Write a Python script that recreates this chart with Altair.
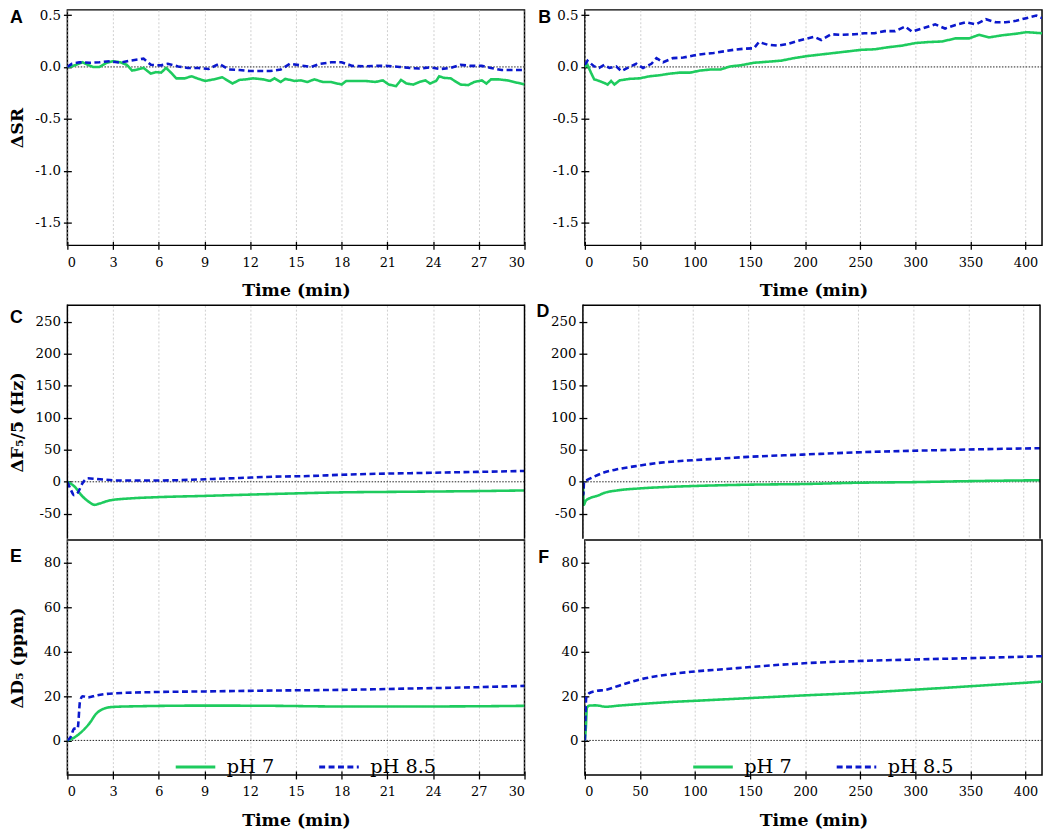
import altair as alt
import pandas as pd

# ---------------- data ----------------
SERIES = ["pH 7", "pH 8.5"]

# Panel A: ΔSR, 0-30 min
A_PH7 = [(0, 0.0), (0.3, 0.005), (1.0, 0.045), (1.34, 0.02), (1.68, 0.0), (2.1, 0.0), (2.57, 0.04),
         (3.0, 0.055), (3.47, 0.045), (3.9, 0.02), (4.25, -0.035), (4.6, -0.025), (5.0, -0.01),
         (5.48, -0.065), (5.8, -0.05), (6.15, -0.055), (6.48, -0.01), (6.8, -0.055), (7.15, -0.11),
         (7.7, -0.11), (8.16, -0.09), (8.6, -0.115), (9.05, -0.135), (9.6, -0.12), (10.17, -0.1),
         (10.84, -0.16), (11.3, -0.125), (11.7, -0.12), (12.2, -0.11), (12.85, -0.12), (13.3, -0.135),
         (13.6, -0.11), (14.0, -0.145), (14.3, -0.115), (14.9, -0.135), (15.3, -0.13), (15.76, -0.145),
         (16.2, -0.12), (16.77, -0.145), (17.3, -0.145), (18.0, -0.17), (18.3, -0.135), (18.9, -0.135),
         (19.55, -0.135), (20.2, -0.145), (20.7, -0.13), (21.1, -0.17), (21.57, -0.185), (21.9, -0.125),
         (22.25, -0.16), (22.7, -0.17), (23.1, -0.145), (23.5, -0.13), (23.8, -0.16), (24.2, -0.135),
         (24.4, -0.09), (24.7, -0.105), (25.15, -0.11), (25.8, -0.17), (26.3, -0.175), (26.7, -0.145),
         (27.2, -0.13), (27.5, -0.16), (27.8, -0.12), (28.3, -0.12), (28.9, -0.13), (29.6, -0.155),
         (30, -0.17)]
A_PH85 = [(0, 0.0), (0.3, 0.03), (0.78, 0.045), (1.45, 0.04), (2.1, 0.045), (2.8, 0.055), (3.47, 0.04),
          (4.1, 0.06), (5.0, 0.08), (5.48, 0.02), (6.15, 0.015), (6.6, 0.03), (7.27, 0.005), (7.9, -0.01),
          (8.6, -0.01), (9.27, -0.02), (9.95, 0.03), (10.6, -0.025), (11.3, -0.03), (11.97, -0.04),
          (12.6, -0.04), (13.3, -0.04), (14.0, -0.025), (14.6, 0.03), (15.3, 0.015), (15.98, 0.0),
          (16.6, 0.03), (17.3, 0.045), (18.0, 0.045), (18.7, 0.01), (19.55, 0.005), (20.2, 0.01),
          (20.9, 0.01), (21.8, 0.0), (22.5, -0.01), (23.1, -0.015), (23.8, -0.005), (24.5, -0.02),
          (25.15, -0.01), (25.8, 0.02), (26.5, 0.01), (27.2, 0.01), (27.8, -0.01), (28.5, -0.03),
          (29.2, -0.03), (30, -0.03)]

# Panel B: ΔSR, 0-415 min
B_PH7 = [(0, 0.0), (2.4, 0.02), (5.5, -0.055), (8.5, -0.12), (13, -0.135), (17.7, -0.155), (20.7, -0.17),
         (23.8, -0.135), (26.8, -0.17), (31.4, -0.13), (40.6, -0.115), (49.7, -0.11), (58.9, -0.09),
         (68, -0.08), (77, -0.065), (86, -0.055), (95.5, -0.055), (104.7, -0.035), (113.8, -0.025),
         (123, -0.025), (132, 0.005), (141, 0.015), (153.5, 0.04), (165.7, 0.05), (177.9, 0.06),
         (190, 0.085), (202, 0.105), (214.5, 0.12), (226.7, 0.135), (238.9, 0.15), (251, 0.165),
         (263, 0.17), (275.5, 0.19), (287.7, 0.205), (300, 0.23), (312, 0.24), (324, 0.245),
         (336.5, 0.275), (348.7, 0.275), (357.9, 0.31), (367, 0.285), (379, 0.305), (391.5, 0.32),
         (400.6, 0.335), (415, 0.325)]
B_PH85 = [(0, 0.02), (2.4, 0.06), (4.6, 0.04), (8.5, 0.005), (13, -0.01), (17.7, 0.02), (22.3, -0.01),
          (28.4, 0.005), (33, -0.04), (40.6, 0.0), (46.7, 0.03), (52.8, -0.01), (60.4, 0.03), (65, 0.085),
          (71, 0.045), (80, 0.085), (89.4, 0.09), (98.5, 0.11), (107.7, 0.125), (116.9, 0.135),
          (126, 0.15), (135, 0.165), (144, 0.175), (153.5, 0.18), (158, 0.24), (165.7, 0.215),
          (175, 0.205), (184, 0.22), (193, 0.25), (202, 0.275), (208, 0.29), (214.5, 0.26),
          (223.6, 0.315), (232.8, 0.31), (245, 0.315), (254, 0.325), (263, 0.325), (272, 0.345),
          (281.6, 0.345), (290.8, 0.39), (296.9, 0.34), (306, 0.37), (318, 0.41), (327, 0.37),
          (336.5, 0.405), (345.7, 0.43), (354.8, 0.41), (364, 0.46), (373, 0.43), (382, 0.43),
          (391.5, 0.445), (400.6, 0.47), (409.8, 0.495), (415, 0.47)]

# Panel C: ΔF5/5 (Hz), 0-30 min
C_PH7 = [(0, 0), (0.45, -7), (1.0, -23), (1.45, -32), (1.79, -36), (2.1, -34), (2.8, -29), (4.1, -26),
         (5.9, -24), (9.05, -22), (13.5, -19), (18, -16.5), (22.5, -15.5), (26.9, -14.5), (30, -13.5)]
C_PH85 = [(0, 0), (0.22, -12), (0.45, -21), (0.67, -17.5), (1.0, -2), (1.34, 5.5), (1.9, 4.5), (3.47, 2),
          (5.7, 2), (7.9, 3), (9.05, 4), (11.3, 6), (13.5, 8), (15.8, 9), (18, 11), (20.2, 12.5),
          (22.5, 13.5), (24.7, 14.5), (26.9, 15.5), (30, 17)]

# Panel D: ΔF5/5 (Hz), 0-415 min
D_PH7 = [(0, 0), (0.9, -36), (2.4, -30), (7, -25), (13, -22), (19, -17.5), (31, -13.5), (50, -10.5),
         (77, -8), (101.6, -6.5), (150, -4.5), (199, -3.5), (248, -1.5), (300, -0.5), (349, 1), (415, 2.5)]
D_PH85 = [(0, 0), (0.5, -20), (1.0, 0), (4, 3), (10, 8), (19, 14.5), (31, 19.5), (50, 25), (71, 30),
          (101.6, 34), (126, 36.5), (150, 39), (199, 42.5), (248, 46), (300, 48.5), (349, 50.5), (415, 52.5)]

# Panel E: ΔD5 (ppm), 0-30 min
E_PH7 = [(0, 0), (0.45, 1.3), (1.0, 4.3), (1.45, 7.7), (1.9, 12.1), (2.35, 14.2), (3.0, 15.1), (4.6, 15.4),
         (9.05, 15.7), (13.5, 15.6), (18, 15.3), (22.5, 15.3), (26.9, 15.4), (30, 15.6)]
E_PH85 = [(0, 0), (0.22, 1.6), (0.45, 5.3), (0.67, 5.3), (0.83, 17.6), (1.0, 19.9), (1.34, 19.4),
          (1.9, 20.3), (3.0, 21.2), (5.7, 21.8), (9.05, 22.1), (13.5, 22.5), (18, 22.8), (22.5, 23.4),
          (26.9, 24), (30, 24.6)]

# Panel F: ΔD5 (ppm), 0-415 min
F_PH7 = [(0, 0), (0.9, 5.8), (1.8, 14.6), (4, 15.7), (10, 15.8), (19, 15.2), (31, 15.7), (50, 16.4),
         (77, 17.3), (101.6, 17.9), (150, 19.1), (199, 20.3), (248, 21.4), (300, 22.9), (349, 24.4), (415, 26.5)]
F_PH85 = [(0, 0), (0.6, 11.7), (1.2, 19.1), (4, 21.3), (10, 22.3), (19, 22.8), (31, 24.7), (50, 27.5),
          (71, 29.4), (101.6, 31.2), (126, 32.1), (150, 33.1), (199, 34.8), (248, 35.8), (300, 36.5),
          (349, 37.1), (415, 38)]

# axes
X_SHORT_DOMAIN = [0, 30]
X_SHORT_TICKS = [0, 3, 6, 9, 12, 15, 18, 21, 24, 27, 30]
X_LONG_DOMAIN = [0, 415]
X_LONG_TICKS = [0, 50, 100, 150, 200, 250, 300, 350, 400]
SR_DOMAIN = [-1.72, 0.55]
SR_TICKS = [-1.5, -1.0, -0.5, 0.0, 0.5]
F_DOMAIN = [-89, 276]
F_TICKS = [-50, 0, 50, 100, 150, 200, 250]
D_DOMAIN = [-15.6, 90.4]
D_TICKS = [0, 20, 40, 60, 80]

# ---------------- style ----------------
GREEN = "#1ECB5E"
BLUE = "#0B18CC"
SERIF = "DejaVu Serif"
W = 462
H_TOP = 238
H_MID = 236
H_BOT = 237.5
FRAME_W = 1.5
MINUS = "replace(datum.label, '\u2212', '-')"


def frame(p7, p85):
    rows = [{"t": t, "v": v, "s": SERIES[0]} for t, v in p7]
    rows += [{"t": t, "v": v, "s": SERIES[1]} for t, v in p85]
    return pd.DataFrame(rows)


def panel(p7, p85, xdom, xticks, ydom, yticks, yfmt, ytitle, letter, lx, ly,
          full_x, height, smooth, show_legend, open_bottom=False):
    df = frame(p7, p85)
    if full_x:
        xaxis = alt.Axis(values=xticks, format="d", title="Time (min)", offset=-4, tickSize=8,
                         labelPadding=7, labelFontSize=13, titleY=55, titleBaseline="alphabetic",
                         grid=True)
    else:
        xaxis = alt.Axis(values=xticks, title=None, labels=False, ticks=False, grid=True)
    yaxis = alt.Axis(values=yticks, format=yfmt, labelExpr=MINUS, title=ytitle, offset=-4,
                     tickSize=8, labelPadding=3, labelFontSize=13.5, grid=False, titleX=-49.5,
                     titleBaseline="alphabetic")
    yscale = alt.Scale(domain=ydom, nice=False, zero=False)
    if show_legend:
        leg = alt.Legend(orient="none", legendX=108, legendY=208, direction="horizontal",
                         title=None, symbolType="stroke", symbolSize=1600, symbolStrokeWidth=3,
                         labelFont=SERIF, labelFontSize=19.5, labelColor="black", labelOffset=10,
                         columnPadding=38, padding=0)
    else:
        leg = None

    zero = alt.Chart(pd.DataFrame({"v": [0]})).mark_rule(
        color="#222222", strokeDash=[1.5, 1.5], strokeWidth=1
    ).encode(y=alt.Y("v:Q", scale=yscale, axis=yaxis))

    lines = alt.Chart(df).mark_line(
        strokeWidth=2.6, interpolate="monotone" if smooth else "linear", clip=True
    ).encode(
        x=alt.X("t:Q", scale=alt.Scale(domain=xdom, nice=False, zero=False), axis=xaxis),
        y=alt.Y("v:Q", scale=yscale, axis=yaxis),
        color=alt.Color("s:N", scale=alt.Scale(domain=SERIES, range=[GREEN, BLUE]), legend=leg),
        strokeDash=alt.StrokeDash("s:N", scale=alt.Scale(domain=SERIES, range=[[1, 0], [6, 3.5]]),
                                  legend=leg),
    )

    lab = alt.Chart(pd.DataFrame({"L": [letter]})).mark_text(
        font="Liberation Sans", fontWeight="bold", fontSize=18, align="left",
        baseline="alphabetic", color="black"
    ).encode(text="L:N", x=alt.value(lx), y=alt.value(ly))

    layers = [zero, lines, lab]
    props = dict(width=W, height=height)
    if open_bottom:
        # frame drawn on three sides only; the shared edge comes from the panel below
        one = pd.DataFrame({"k": [0]})
        edge = alt.Chart(one).mark_rule(color="black", strokeWidth=FRAME_W)
        layers += [
            edge.encode(x=alt.value(0), x2=alt.value(W), y=alt.value(0)),
            edge.encode(x=alt.value(0), y=alt.value(-FRAME_W / 2), y2=alt.value(height)),
            edge.encode(x=alt.value(W), y=alt.value(-FRAME_W / 2), y2=alt.value(height)),
        ]
        props["view"] = alt.ViewBackground(stroke="transparent", strokeWidth=0)
    return alt.layer(*layers).properties(**props)


pA = panel(A_PH7, A_PH85, X_SHORT_DOMAIN, X_SHORT_TICKS, SR_DOMAIN, SR_TICKS, ".1f", "ΔSR",
           "A", -58, 13.5, True, H_TOP, False, False)
pB = panel(B_PH7, B_PH85, X_LONG_DOMAIN, X_LONG_TICKS, SR_DOMAIN, SR_TICKS, ".1f", None,
           "B", -47, 13.5, True, H_TOP, False, False)
pC = panel(C_PH7, C_PH85, X_SHORT_DOMAIN, X_SHORT_TICKS, F_DOMAIN, F_TICKS, "d", "ΔF₅/5 (Hz)",
           "C", -58, 17.5, False, H_MID, True, False, open_bottom=True)
pD = panel(D_PH7, D_PH85, X_LONG_DOMAIN, X_LONG_TICKS, F_DOMAIN, F_TICKS, "d", None,
           "D", -47, 11.5, False, H_MID, True, False, open_bottom=True)
pE = panel(E_PH7, E_PH85, X_SHORT_DOMAIN, X_SHORT_TICKS, D_DOMAIN, D_TICKS, "d", "ΔD₅ (ppm)",
           "E", -58, 22.5, True, H_BOT, True, True)
pF = panel(F_PH7, F_PH85, X_LONG_DOMAIN, X_LONG_TICKS, D_DOMAIN, D_TICKS, "d", None,
           "F", -47, 23, True, H_BOT, True, True)


def indep(c):
    return c.resolve_scale(color="independent", strokeDash="independent").resolve_legend(
        color="independent", strokeDash="independent")


row1 = indep(alt.hconcat(pA, pB, spacing=11))
row2 = indep(alt.hconcat(pC, pD, spacing=11))
row3 = indep(alt.hconcat(pE, pF, spacing=11))
lower = indep(alt.vconcat(row2, row3, spacing=-0.75))
chart = indep(alt.vconcat(row1, lower, spacing=1.5)).properties(
    padding={"left": -1, "top": -5.5, "right": 0, "bottom": 0}, background="white"
).configure_view(
    stroke="black", strokeWidth=FRAME_W
).configure_axis(
    labelFont=SERIF, labelFontSize=13, labelColor="black",
    titleFont=SERIF, titleFontSize=17.5, titleFontWeight="bold", titleColor="black",
    tickColor="black", tickWidth=1.3, domain=False,
    gridColor="#c4c4c4", gridDash=[2, 2], gridWidth=0.8,
)

chart.save("out.html", embed_options={"renderer": "svg", "actions": False})
